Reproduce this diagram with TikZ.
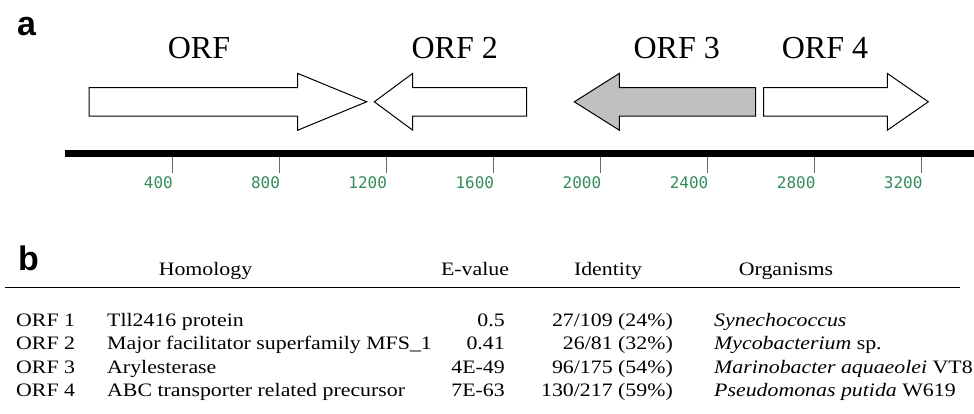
\documentclass[tikz,border=0pt]{standalone}
\usepackage{fontspec}
\usepackage{graphicx}
\setmainfont{Liberation Serif}
\newfontfamily\panelfont{Liberation Sans}
\newfontfamily\rulerfont{DejaVu Sans Mono}
\definecolor{tickgreen}{RGB}{52,140,90}
\definecolor{orfgray}{RGB}{192,192,192}
\newcommand{\cell}[1]{\scalebox{1.15}[1]{#1}}

\begin{document}
\begin{tikzpicture}[x=1pt,y=-1pt,
  orf/.style={draw=black,line width=1pt,line join=miter,fill=white},
  orflabel/.style={font=\fontsize{32}{36}\selectfont,inner sep=0pt,anchor=base},
  panel/.style={font=\panelfont\bfseries\fontsize{34}{38}\selectfont,inner sep=0pt,anchor=base west},
  ticktick/.style={draw=black!60,line width=1pt},
  ticklabel/.style={font=\rulerfont\fontsize{16}{18}\selectfont,text=tickgreen,inner sep=0pt,anchor=base east},
  cellw/.style={font=\fontsize{19}{22}\selectfont,inner sep=0pt,anchor=base west},
  celle/.style={font=\fontsize{19}{22}\selectfont,inner sep=0pt,anchor=base east},
  cellc/.style={font=\fontsize{19}{22}\selectfont,inner sep=0pt,anchor=base}]

\path[use as bounding box] (0,0) rectangle (974,413);

% panel letters
\node[panel] (pa) at (17,35) {a};
\node[panel] (pb) at (18,270) {b};

% ORF arrows (body half height 14.2, head half height 28.3, axis at y=101.8)
\draw[orf] (89,87.6) -- (297.7,87.6) -- (297.7,73.4) -- (366.7,101.8) -- (297.7,130.2) -- (297.7,116) -- (89,116) -- cycle;
\draw[orf] (526.7,87.6) -- (412.7,87.6) -- (412.7,73.4) -- (374.3,101.8) -- (412.7,130.2) -- (412.7,116) -- (526.7,116) -- cycle;
\draw[orf,fill=orfgray] (755.7,87.6) -- (619.3,87.6) -- (619.3,73.4) -- (574.3,101.8) -- (619.3,130.2) -- (619.3,116) -- (755.7,116) -- cycle;
\draw[orf] (763.7,87.6) -- (887.3,87.6) -- (887.3,73.4) -- (928.3,101.8) -- (887.3,130.2) -- (887.3,116) -- (763.7,116) -- cycle;

\node[orflabel] (l1) at (199,58.3) {ORF};
\node[orflabel] (l2) at (454.7,58.3) {ORF 2};
\node[orflabel] (l3) at (676.7,58.3) {ORF 3};
\node[orflabel] (l4) at (825,58.3) {ORF 4};

% ruler
\draw[line width=6.5pt] (65,153.4) -- (974,153.4);
\foreach \k/\lab in {0/400,1/800,2/1200,3/1600,4/2000,5/2400,6/2800,7/3200}{
  \draw[ticktick] (172+107.1*\k,156.5) -- (172+107.1*\k,173.3);
  \node[ticklabel] (t\k) at (173+107.1*\k,188.3) {\lab};
}

% table
\node[cellc] (hh) at (205.5,275.7) {\cell{Homology}};
\node[cellc] (he) at (475,275.7) {\cell{E-value}};
\node[cellc] (hi) at (608,275.7) {\cell{Identity}};
\node[cellc] (ho) at (786,275.7) {\cell{Organisms}};
\draw[line width=1.6pt] (5,287.3) -- (960,287.3);

\node[cellw] (a1) at (16,326) {\cell{ORF 1}};
\node[cellw] (b1) at (107,326) {\cell{Tll2416 protein}};
\node[celle] (c1) at (505,326) {\cell{0.5}};
\node[celle] (d1) at (673,326) {\cell{27/109 (24\%)}};
\node[cellw] (e1) at (714,326) {\cell{\textit{Synechococcus}}};

\node[cellw] (a2) at (16,349.5) {\cell{ORF 2}};
\node[cellw] (b2) at (107,349.5) {\cell{Major facilitator superfamily MFS\_1}};
\node[celle] (c2) at (505,349.5) {\cell{0.41}};
\node[celle] (d2) at (673,349.5) {\cell{26/81 (32\%)}};
\node[cellw] (e2) at (714,349.5) {\cell{\textit{Mycobacterium} sp.}};

\node[cellw] (a3) at (16,373) {\cell{ORF 3}};
\node[cellw] (b3) at (107,373) {\cell{Arylesterase}};
\node[celle] (c3) at (505,373) {\cell{4E-49}};
\node[celle] (d3) at (673,373) {\cell{96/175 (54\%)}};
\node[cellw] (e3) at (714,373) {\cell{\textit{Marinobacter aquaeolei} VT8}};

\node[cellw] (a4) at (16,396.7) {\cell{ORF 4}};
\node[cellw] (b4) at (107,396.7) {\cell{ABC transporter related precursor}};
\node[celle] (c4) at (505,396.7) {\cell{7E-63}};
\node[celle] (d4) at (673,396.7) {\cell{130/217 (59\%)}};
\node[cellw] (e4) at (714,396.7) {\cell{\textit{Pseudomonas putida} W619}};
\end{tikzpicture}
\end{document}
